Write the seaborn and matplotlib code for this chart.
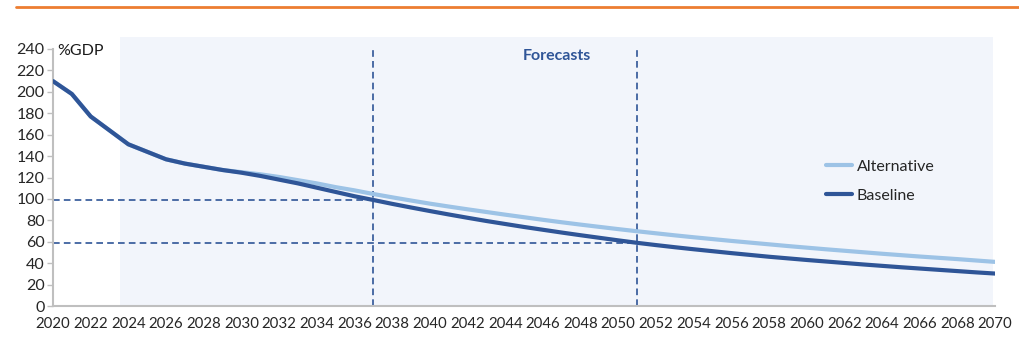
import matplotlib
matplotlib.use("Agg")
import matplotlib.pyplot as plt
import seaborn as sns
import pandas as pd
from matplotlib.patches import Rectangle
from matplotlib.lines import Line2D

years = list(range(2020, 2071))

baseline = [210, 198, 177, 164, 151, 144, 137, 133, 130, 127,
            124.5, 121.5, 118, 114.5, 110.5, 106.5, 102.5, 99, 95.4, 92.0,
            88.7, 85.5, 82.4, 79.4, 76.6, 73.8, 71.2, 68.6, 66.1, 63.7,
            61.3, 59, 56.9, 54.9, 53.0, 51.2, 49.4, 47.7, 46.0, 44.5,
            43, 41.6, 40.2, 38.8, 37.5, 36.2, 35.0, 33.8, 32.6, 31.4,
            30.3]

alternative = [210, 198, 177, 164, 151, 144, 137, 133, 130, 127,
               125, 123, 120.5, 117.5, 114.5, 111, 108, 104.6, 101.5, 98.5,
               95.6, 92.9, 90.3, 87.8, 85.3, 82.9, 80.5, 78.2, 76.0, 73.9,
               71.8, 69.8, 67.9, 66.0, 64.2, 62.5, 60.8, 59.2, 57.6, 56.0,
               54.5, 53.0, 51.6, 50.2, 48.8, 47.5, 46.2, 45.0, 43.8, 42.5,
               41.2]

series_names = ["Alternative", "Baseline"]
series_colors = ["#9DC3E6", "#2F5597"]

ref_years = [2037, 2051]
ref_levels = [99, 59]

x_ticks = list(range(2020, 2071, 2))
y_ticks = list(range(0, 241, 20))

df = pd.DataFrame({
    "year": years * 2,
    "value": alternative + baseline,
    "series": ["Alternative"] * len(years) + ["Baseline"] * len(years),
})

sns.set_theme(style="white")
plt.rcParams["font.family"] = ["Lato", "DejaVu Sans"]

FS = 11.5
FSX = 10.8

fig = plt.figure(figsize=(10.2, 3.43), dpi=100)
ax = fig.add_axes([53 / 1020, 1 - 306 / 343, (995 - 53) / 1020, (306 - 49) / 343])

# forecast shading (extends slightly above axes like the original)
ax.add_patch(Rectangle((2023.55, 0), 2069.9 - 2023.55, 251, facecolor="#F2F5FB",
                       edgecolor="none", zorder=0, clip_on=False))

sns.lineplot(data=df, x="year", y="value", hue="series", hue_order=series_names,
             palette=series_colors, linewidth=3, ax=ax, legend=False, zorder=3)

dash_col = "#2F5597"
for yr, lvl in zip(ref_years, ref_levels):
    ax.plot([2020, yr], [lvl, lvl], color=dash_col, lw=1.2, ls=(0, (4, 2.5)), zorder=2)
    ax.plot([yr, yr], [0, 241], color=dash_col, lw=1.2, ls=(0, (4, 2.5)), zorder=2,
            clip_on=False)

ax.set_xlim(2020, 2070)
ax.set_ylim(0, 240)
ax.set_xticks(x_ticks)
ax.set_yticks(y_ticks)
ax.set_xticklabels([str(t) for t in x_ticks], fontsize=FSX)
ax.set_yticklabels([str(t) for t in y_ticks], fontsize=FS)
ax.set_xlabel("")
ax.set_ylabel("")
ax.tick_params(axis="y", length=4, width=1, color="#BFBFBF", direction="out", pad=2, left=True)
ax.tick_params(axis="x", length=0, pad=8)

for s in ["top", "right"]:
    ax.spines[s].set_visible(False)
for s in ["left", "bottom"]:
    ax.spines[s].set_color("#BFBFBF")
    ax.spines[s].set_linewidth(1.5)
ax.patch.set_alpha(0)

ax.text(2020.25, 238, "%GDP", fontsize=FS, ha="left", va="center", color="#1a1a1a")
ax.text(2046.75, 233, "Forecasts", fontsize=FS, fontweight="bold", ha="center",
        va="center", color="#2F5597")

handles = [Line2D([0], [0], color=c, lw=3) for c in series_colors]
ax.legend(handles, series_names, loc="upper left", bbox_to_anchor=(0.814, 0.595),
          frameon=False, fontsize=FS, handlelength=1.6, handletextpad=0.3,
          labelspacing=0.95, borderaxespad=0)

# orange rule at top of figure
fig.add_artist(Line2D([16 / 1020, 1], [1 - 7 / 343, 1 - 7 / 343], color="#ED7D31", lw=2.0))

fig.savefig("out.png", dpi=100)
